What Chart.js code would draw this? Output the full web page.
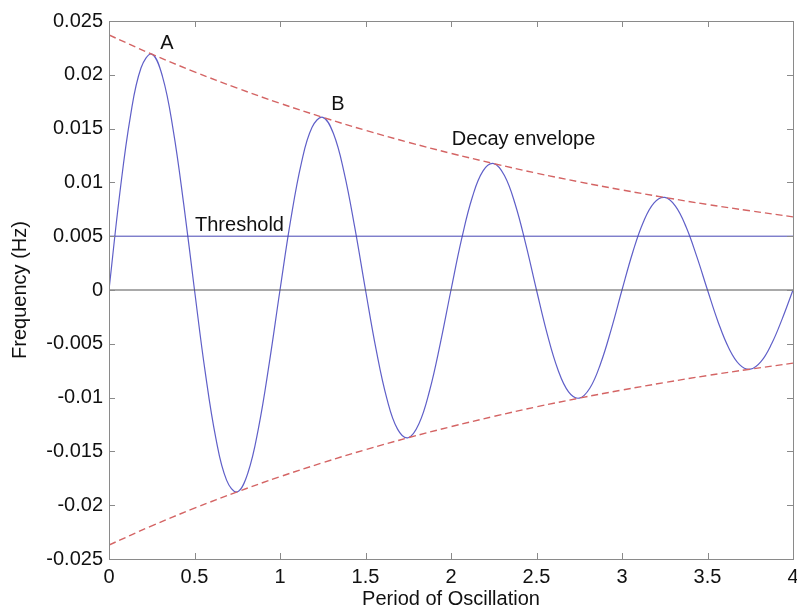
<!DOCTYPE html>
<html lang="en">
<head>
  <meta charset="UTF-8">
  <title>Damped Oscillation</title>
  <script src="https://cdn.jsdelivr.net/npm/chart.js"></script>
  <style>
    html, body { margin: 0; padding: 0; background: #fff; }
    #wrap { position: relative; width: 797px; height: 612px; }
  </style>
</head>
<body>
  <div id="wrap">
    <canvas id="oscChart" width="797" height="612"></canvas>
  </div>
  <script>
    // --- Data ---
    // Sample positions along the period axis (every 1/16 of a period).
    const periodX = [
      0, 0.0625, 0.125, 0.1875, 0.25, 0.3125, 0.375, 0.4375,
      0.5, 0.5625, 0.625, 0.6875, 0.75, 0.8125, 0.875, 0.9375,
      1, 1.0625, 1.125, 1.1875, 1.25, 1.3125, 1.375, 1.4375,
      1.5, 1.5625, 1.625, 1.6875, 1.75, 1.8125, 1.875, 1.9375,
      2, 2.0625, 2.125, 2.1875, 2.25, 2.3125, 2.375, 2.4375,
      2.5, 2.5625, 2.625, 2.6875, 2.75, 2.8125, 2.875, 2.9375,
      3, 3.0625, 3.125, 3.1875, 3.25, 3.3125, 3.375, 3.4375,
      3.5, 3.5625, 3.625, 3.6875, 3.75, 3.8125, 3.875, 3.9375,
      4
    ];
    // Measured frequency (Hz) at each sample.
    const frequency = [
      0, 0.00890, 0.01612, 0.02065, 0.02192, 0.01986, 0.01491, 0.00791,
      0, -0.00761, -0.01379, -0.01767, -0.01876, -0.01699, -0.01276, -0.00677,
      0, 0.00651, 0.01180, 0.01512, 0.01605, 0.01454, 0.01091, 0.00579,
      0, -0.00557, -0.01009, -0.01293, -0.01373, -0.01244, -0.00934, -0.00496,
      0, 0.00477, 0.00864, 0.01107, 0.01175, 0.01064, 0.00799, 0.00424,
      0, -0.00408, -0.00739, -0.00947, -0.01005, -0.00911, -0.00683, -0.00363,
      0, 0.00349, 0.00632, 0.00810, 0.00860, 0.00779, 0.00585, 0.00310,
      0, -0.00299, -0.00541, -0.00693, -0.00736, -0.00666, -0.00500, -0.00266,
      0
    ];
    // Decay envelope, sampled every quarter period.
    const envelopeX = [0, 0.25, 0.5, 0.75, 1, 1.25, 1.5, 1.75, 2, 2.25, 2.5, 2.75, 3, 3.25, 3.5, 3.75, 4];
    const envelopeUpper = [
      0.02370, 0.02192, 0.02028, 0.01876, 0.01735, 0.01605, 0.01484, 0.01373,
      0.01270, 0.01175, 0.01086, 0.01005, 0.00930, 0.00860, 0.00795, 0.00736, 0.00680
    ];
    const envelopeLower = [
      -0.02370, -0.02192, -0.02028, -0.01876, -0.01735, -0.01605, -0.01484, -0.01373,
      -0.01270, -0.01175, -0.01086, -0.01005, -0.00930, -0.00860, -0.00795, -0.00736, -0.00680
    ];
    const thresholdLevel = 0.005;

    // Axis ticks
    const xTicks = [0, 0.5, 1, 1.5, 2, 2.5, 3, 3.5, 4];
    const xTickLabels = ['0', '0.5', '1', '1.5', '2', '2.5', '3', '3.5', '4'];
    const yTicks = [-0.025, -0.02, -0.015, -0.01, -0.005, 0, 0.005, 0.01, 0.015, 0.02, 0.025];
    const yTickLabels = ['-0.025', '-0.02', '-0.015', '-0.01', '-0.005', '0', '0.005', '0.01', '0.015', '0.02', '0.025'];

    // Text annotations placed in data coordinates
    const notes = [
      { text: 'A', x: 0.30, y: 0.0229 },
      { text: 'B', x: 1.30, y: 0.0172 },
      { text: 'Decay envelope', x: 2.005, y: 0.0140 },
      { text: 'Threshold', x: 0.503, y: 0.0060 }
    ];

    const toPoints = (xs, ys) => xs.map((x, i) => ({ x: x, y: ys[i] }));
    const FONT = '"Liberation Sans", Arial, Helvetica, sans-serif';

    // Box frame with inward tick marks, plus the text notes
    const frameAndNotes = {
      id: 'frameAndNotes',
      afterDatasetsDraw(chart) {
        const { ctx, chartArea: a, scales: { x, y } } = chart;
        ctx.save();
        ctx.strokeStyle = '#8a8a8a';
        ctx.lineWidth = 1;
        ctx.strokeRect(Math.round(a.left) + 0.5, Math.round(a.top) + 0.5,
          Math.round(a.right - a.left), Math.round(a.bottom - a.top));
        const len = 6;
        ctx.beginPath();
        xTicks.forEach(v => {
          const px = Math.round(x.getPixelForValue(v)) + 0.5;
          ctx.moveTo(px, a.bottom); ctx.lineTo(px, a.bottom - len);
          ctx.moveTo(px, a.top); ctx.lineTo(px, a.top + len);
        });
        yTicks.forEach(v => {
          const py = Math.round(y.getPixelForValue(v)) + 0.5;
          ctx.moveTo(a.left, py); ctx.lineTo(a.left + len, py);
          ctx.moveTo(a.right, py); ctx.lineTo(a.right - len, py);
        });
        ctx.stroke();

        ctx.fillStyle = '#111';
        ctx.font = '20px ' + FONT;
        ctx.textAlign = 'left';
        ctx.textBaseline = 'middle';
        notes.forEach(n => {
          ctx.fillText(n.text, x.getPixelForValue(n.x), y.getPixelForValue(n.y));
        });
        ctx.restore();
      }
    };

    const ctx = document.getElementById('oscChart').getContext('2d');
    const oscChart = new Chart(ctx, {
      type: 'line',
      data: {
        datasets: [
          {
            label: 'Zero',
            data: toPoints([0, 4], [0, 0]),
            borderColor: '#555555',
            borderWidth: 1,
            pointRadius: 0
          },
          {
            label: 'Threshold',
            data: toPoints([0, 4], [thresholdLevel, thresholdLevel]),
            borderColor: '#4646b4',
            borderWidth: 1,
            pointRadius: 0
          },
          {
            label: 'Upper envelope',
            data: toPoints(envelopeX, envelopeUpper),
            borderColor: '#d46464',
            borderWidth: 1.4,
            borderDash: [7, 4],
            pointRadius: 0,
            tension: 0.4
          },
          {
            label: 'Lower envelope',
            data: toPoints(envelopeX, envelopeLower),
            borderColor: '#d46464',
            borderWidth: 1.4,
            borderDash: [7, 4],
            pointRadius: 0,
            tension: 0.4
          },
          {
            label: 'Frequency',
            data: toPoints(periodX, frequency),
            borderColor: '#5f5fc8',
            borderWidth: 1.2,
            pointRadius: 0,
            tension: 0.4
          }
        ]
      },
      options: {
        responsive: false,
        animation: false,
        layout: { padding: { left: 0, right: 4, top: 21, bottom: 0 } },
        plugins: {
          legend: { display: false },
          tooltip: { enabled: false }
        },
        scales: {
          x: {
            type: 'linear',
            min: 0,
            max: 4,
            grid: { display: false, drawTicks: false },
            border: { display: false },
            afterBuildTicks: s => { s.ticks = xTicks.map(v => ({ value: v })); },
            afterFit: s => { s.height = 53; s.paddingLeft = 0; s.paddingRight = 0; },
            ticks: {
              color: '#111',
              font: { family: FONT, size: 20 },
              padding: 6,
              maxRotation: 0,
              autoSkip: false,
              callback: (v, i) => xTickLabels[i]
            },
            title: {
              display: true,
              text: 'Period of Oscillation',
              color: '#111',
              font: { family: FONT, size: 20, lineHeight: '26px' },
              padding: 0
            }
          },
          y: {
            min: -0.025,
            max: 0.025,
            grid: { display: false, drawTicks: false },
            border: { display: false },
            afterBuildTicks: s => { s.ticks = yTicks.map(v => ({ value: v })); },
            afterFit: s => { s.width = 109; s.paddingTop = 0; s.paddingBottom = 0; },
            ticks: {
              color: '#111',
              font: { family: FONT, size: 20 },
              padding: 6,
              autoSkip: false,
              callback: (v, i) => yTickLabels[i]
            },
            title: {
              display: true,
              text: 'Frequency (Hz)',
              color: '#111',
              font: { family: FONT, size: 20, lineHeight: '40px' },
              padding: 0
            }
          }
        }
      },
      plugins: [frameAndNotes]
    });
  </script>
</body>
</html>
